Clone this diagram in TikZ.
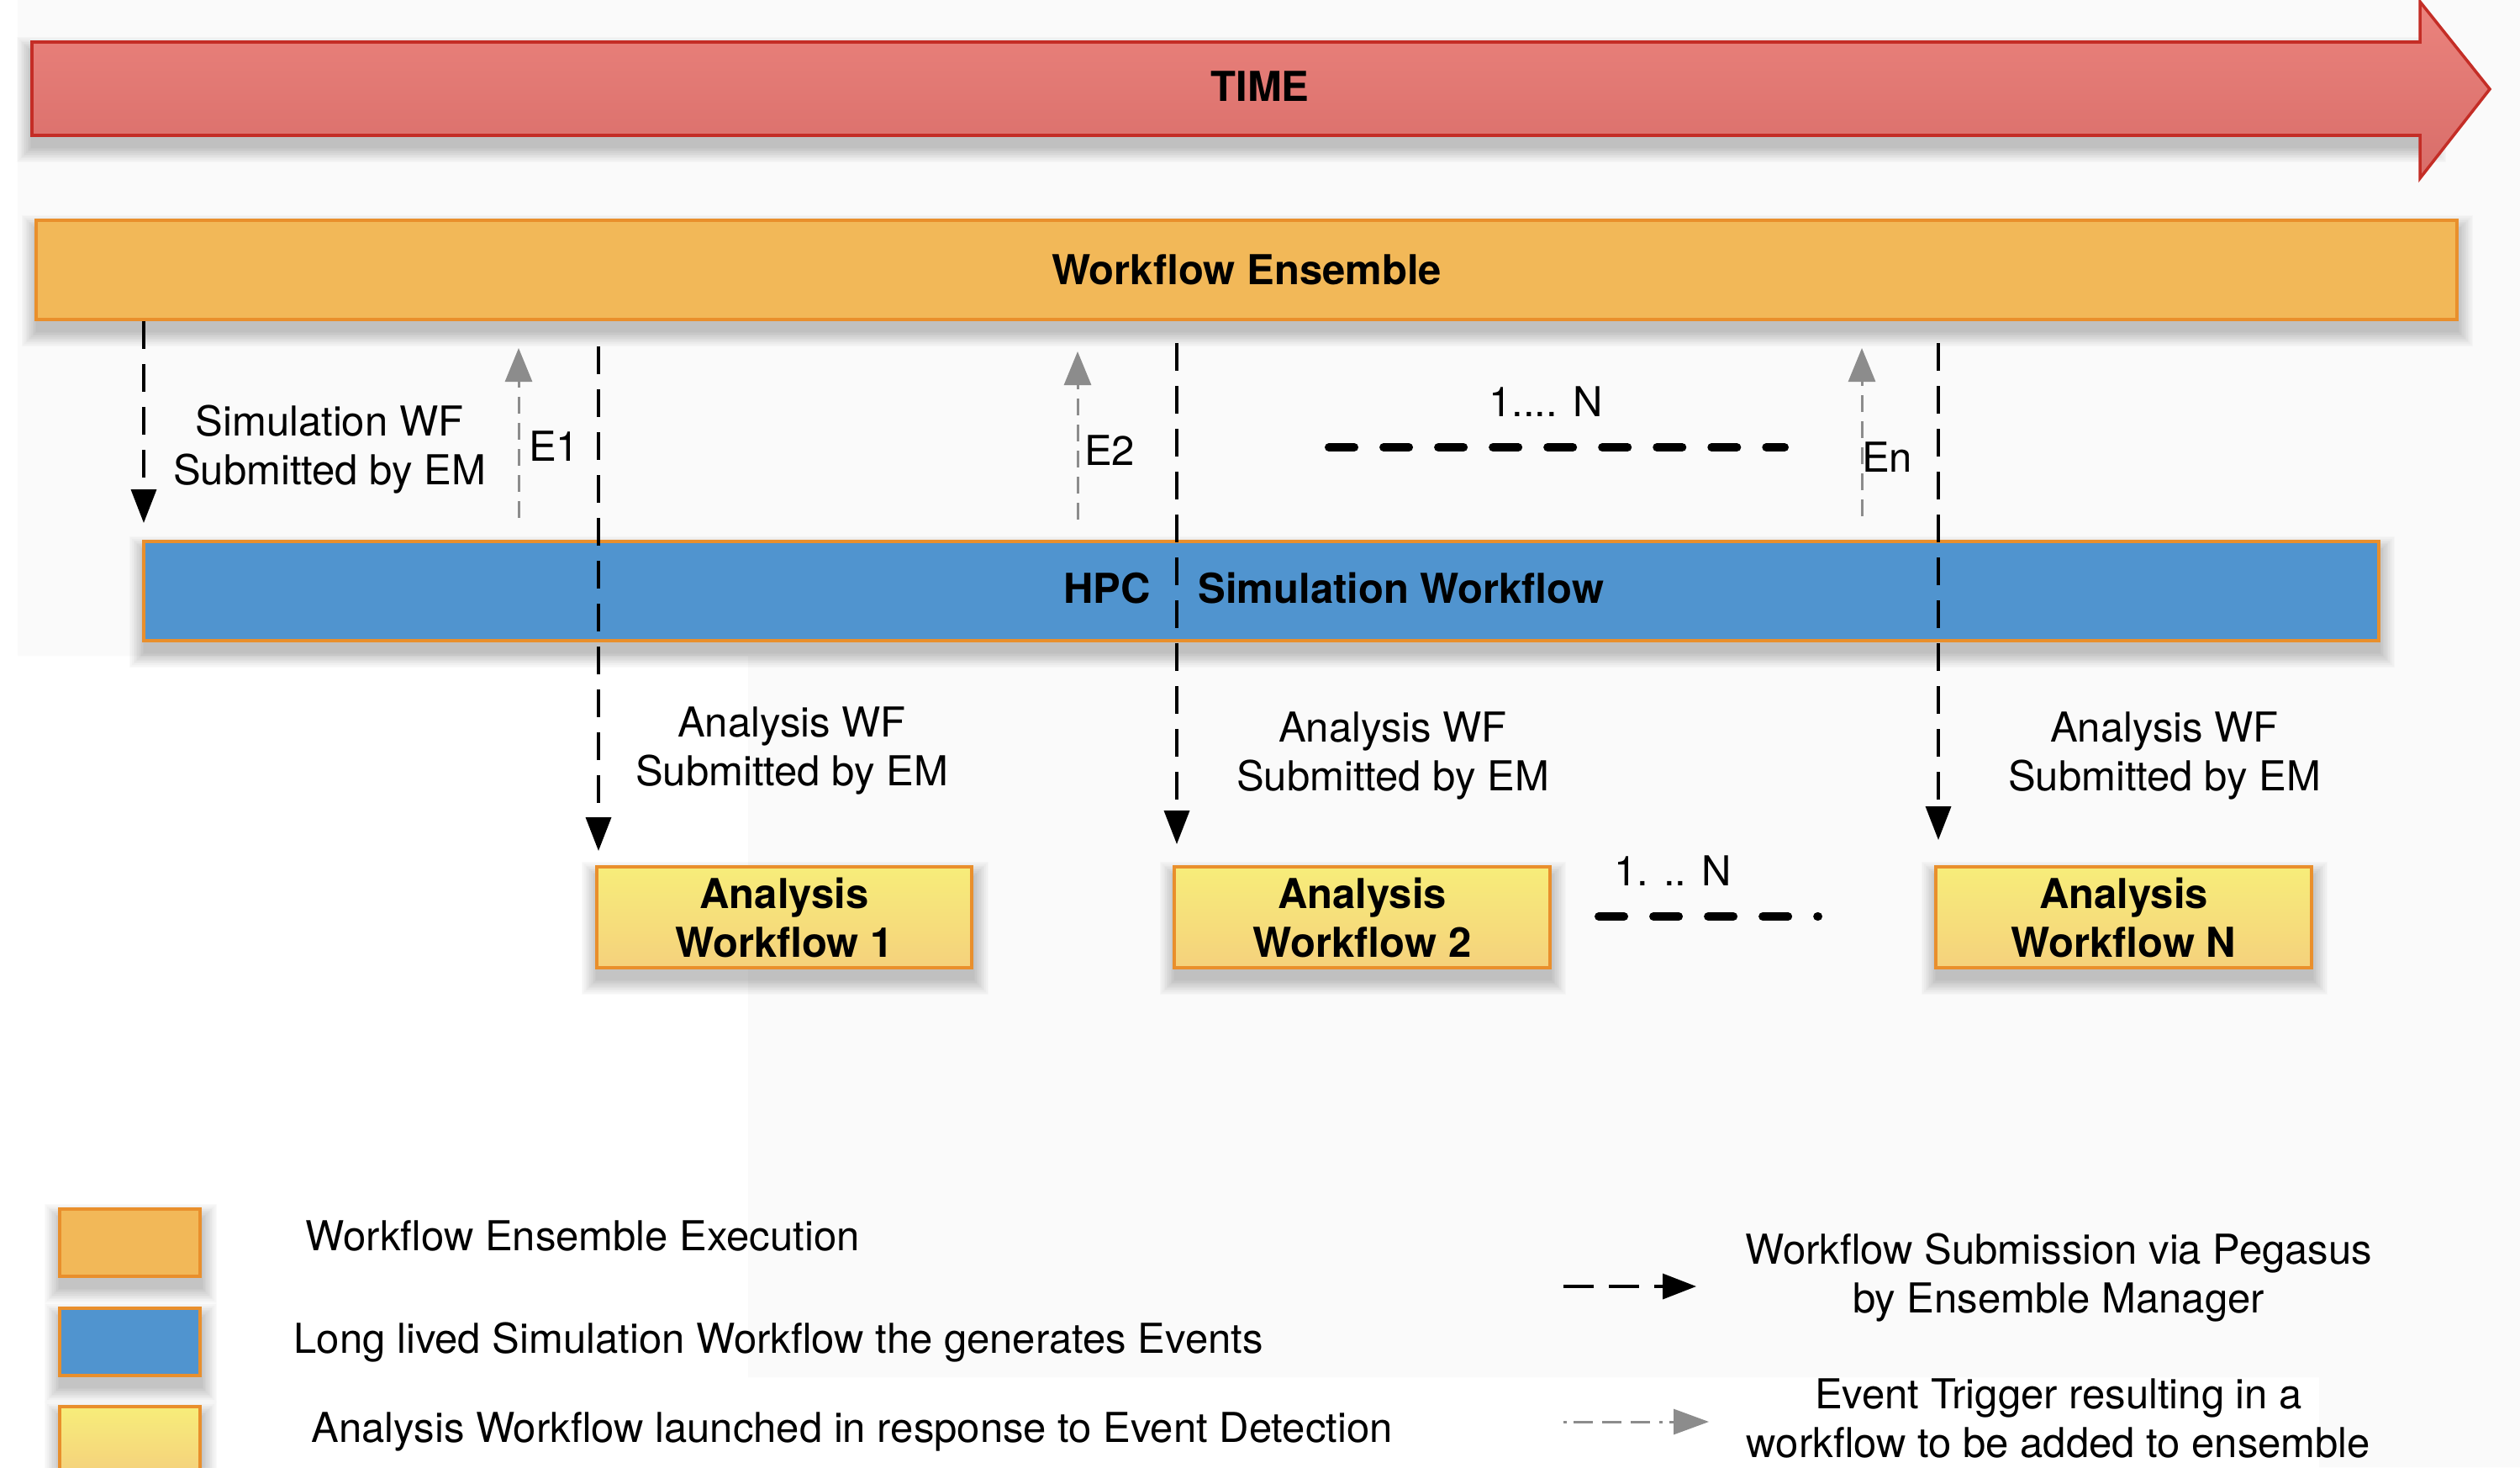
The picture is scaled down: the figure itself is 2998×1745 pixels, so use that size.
\documentclass[tikz,border=0pt]{standalone}
\usepackage{fontspec}
\setmainfont{TeX Gyre Heros}
\usetikzlibrary{arrows.meta,calc}

\definecolor{ensfill}{RGB}{242,184,88}
\definecolor{edgeorange}{RGB}{233,143,44}
\definecolor{simblue}{RGB}{80,148,207}
\definecolor{timetop}{RGB}{235,131,125}
\definecolor{timebot}{RGB}{216,109,105}
\definecolor{timeedge}{RGB}{196,45,38}
\definecolor{anatop}{RGB}{247,237,122}
\definecolor{anabot}{RGB}{245,209,124}
\definecolor{evgray}{RGB}{140,140,140}
\definecolor{paper}{RGB}{250,250,250}

% soft drop shadow under the rectangle (#1,#2)-(#3,#4)
\newcommand\dropshade[4]{%
  \foreach \k in {1,...,12}{%
    \fill[black,opacity=0.02] ({#1+1-1.6*\k},{#2+13-1.6*\k}) rectangle ({#3+1+1.6*\k},{#4+13+1.6*\k});
  }}

\begin{document}
\begin{tikzpicture}[x=0.01cm,y=-0.01cm,
  font=\fontsize{13.94pt}{16.5pt}\selectfont,
  boldf/.style={font=\fontsize{13.94pt}{16.5pt}\selectfont\bfseries},
  bar/.style={draw=edgeorange, line width=1.1pt, inner sep=0, boldf},
  ensbar/.style={bar, fill=ensfill, minimum width=28.78cm, minimum height=1.18cm},
  simbar/.style={bar, fill=simblue, minimum width=26.57cm, minimum height=1.18cm},
  anabox/.style={bar, top color=anatop, bottom color=anabot, minimum width=4.46cm,
    minimum height=1.2cm, align=center},
  keybox/.style={draw=edgeorange, line width=1.3pt, minimum width=1.67cm,
    minimum height=0.8cm, inner sep=0},
  txt/.style={inner sep=0},
  twoline/.style={inner sep=0, align=center},
  submit/.style={draw=black, line width=1pt, dash pattern=on 0.33cm off 0.18cm,
    -{Triangle[length=0.4cm,width=0.3cm]}},
  trigger/.style={draw=evgray, line width=0.85pt, dash pattern=on 0.2cm off 0.11cm,
    -{Triangle[length=0.4cm,width=0.32cm]}},
  manydots/.style={line width=2.85pt, line cap=round, dash pattern=on 0.3cm off 0.35cm},
  legsubmit/.style={draw=black, line width=1pt, dash pattern=on 0.36cm off 0.18cm,
    -{Triangle[length=0.4cm,width=0.3cm]}},
  legtrigger/.style={draw=evgray, line width=0.85pt,
    dash pattern=on 0.04cm off 0.08cm on 0.23cm off 0.11cm on 0.23cm off 0.11cm on 0.23cm off 0.11cm,
    -{Triangle[length=0.42cm,width=0.3cm]}}
]
\useasboundingbox (0,0) rectangle (2998,1745);

% backdrop
\fill[white] (0,0) rectangle (2998,1745);
\fill[paper] (21,0) -- (2998,0) -- (2998,1745) -- (2759,1745) -- (2759,1638)
  -- (890,1638) -- (890,780) -- (21,780) -- cycle;

% shadows
\dropshade{38}{50}{2890}{161}
\dropshade{44}{262}{2922}{380}
\dropshade{172}{644}{2829}{762}
\dropshade{710}{1031}{1156}{1151}
\dropshade{1398}{1031}{1843}{1151}
\dropshade{2304}{1031}{2749}{1151}
\dropshade{71}{1438}{238}{1518}
\dropshade{71}{1556}{238}{1636}
\dropshade{71}{1673}{238}{1753}

% time arrow
\path[draw=timeedge, line width=1pt, top color=timetop, bottom color=timebot]
  (38,50) -- (2879,50) -- (2879,2) -- (2962,106) -- (2879,212) -- (2879,161)
  -- (38,161) -- cycle;
\node[txt, boldf, anchor=base] (timelbl) at (1499,120) {TIME};

% ensemble and simulation bars
\node[ensbar] (ens) at (1483,321) {Workflow Ensemble};
\node[simbar] (sim) at (1500.5,703) {};
\node[txt, boldf, anchor=base] (hpclbl) at (1317,717) {HPC};
\node[txt, boldf, anchor=base] (simlbl) at (1667,717) {Simulation Workflow};

% analysis workflows
\node[anabox] (a1) at (933,1091) {Analysis\\Workflow 1};
\node[anabox] (a2) at (1620.5,1091) {Analysis\\Workflow 2};
\node[anabox] (aN) at (2526.5,1091) {Analysis\\Workflow N};

% connector end points
\coordinate (xsim) at (171,0);
\coordinate (xe1) at (617,0);
\coordinate (xe2) at (1282,0);
\coordinate (xen) at (2215,0);
\coordinate (s1) at (712,412);
\coordinate (s2) at (1400,408);
\coordinate (s3) at (2306,408);

% submissions by the ensemble manager
\draw[submit, shorten >=0.2cm] (ens.south -| xsim) -- (sim.north -| xsim);
\draw[submit, shorten >=0.17cm] (s1) -- (s1 |- a1.north);
\draw[submit, shorten >=0.25cm] (s2) -- (s2 |- a2.north);
\draw[submit, shorten >=0.30cm] (s3) -- (s3 |- aN.north);

% event triggers
\draw[trigger, shorten <=0.26cm, shorten >=0.32cm] (sim.north -| xe1) -- (ens.south -| xe1);
\draw[trigger, shorten <=0.24cm, shorten >=0.36cm] (sim.north -| xe2) -- (ens.south -| xe2);
\draw[trigger, shorten <=0.28cm, shorten >=0.32cm] (sim.north -| xen) -- (ens.south -| xen);

% labels along the connectors
\node[twoline] (simsub) at (392,534.5) {Simulation WF\\Submitted by EM};
\node[txt, anchor=base] (e1lbl) at (659,548) {E1};
\node[txt, anchor=base] (e2lbl) at (1320,553) {E2};
\node[txt, anchor=base] (enlbl) at (2245,561) {En};
\node[twoline] (ana1sub) at (942,893) {Analysis WF\\Submitted by EM};
\node[twoline] (ana2sub) at (1657,899) {Analysis WF\\Submitted by EM};
\node[twoline] (anaNsub) at (2575,899) {Analysis WF\\Submitted by EM};

% "1 ... N" markers
\node[txt, anchor=base] (many1) at (1839,495) {1.... N};
\coordinate (m1a) at (1581,532);
\coordinate (m1b) at (2123,532);
\draw[manydots] (m1a) -- (m1b);
\node[txt, anchor=base] (many2) at (1990,1053) {1. .. N};
\coordinate (m2a) at (1902,1090);
\coordinate (m2b) at (2163,1090);
\draw[manydots] (m2a) -- (m2b);

% legend
\node[keybox, fill=ensfill] (k1) at (154.5,1478) {};
\node[keybox, fill=simblue] (k2) at (154.5,1596) {};
\node[keybox, top color=anatop, bottom color=anabot] (k3) at (154.5,1713) {};
\node[txt, anchor=base west] (k1lbl) at (363,1487) {Workflow Ensemble Execution};
\node[txt, anchor=base west] (k2lbl) at (349,1609) {Long lived Simulation Workflow the generates Events};
\node[txt, anchor=base west] (k3lbl) at (370,1715) {Analysis Workflow launched in response to Event Detection};

\coordinate (l1a) at (1860,1530);
\coordinate (l1b) at (2018,1530);
\draw[legsubmit] (l1a) -- (l1b);
\node[twoline] (l1lbl) at (2449,1519.5) {Workflow Submission via Pegasus\\by Ensemble Manager};
\coordinate (l2a) at (1860,1691);
\coordinate (l2b) at (2033,1691);
\draw[legtrigger] (l2a) -- (l2b);
\node[twoline] (l2lbl) at (2449,1687) {Event Trigger resulting in a\\workflow to be added to ensemble};
\end{tikzpicture}
\end{document}
